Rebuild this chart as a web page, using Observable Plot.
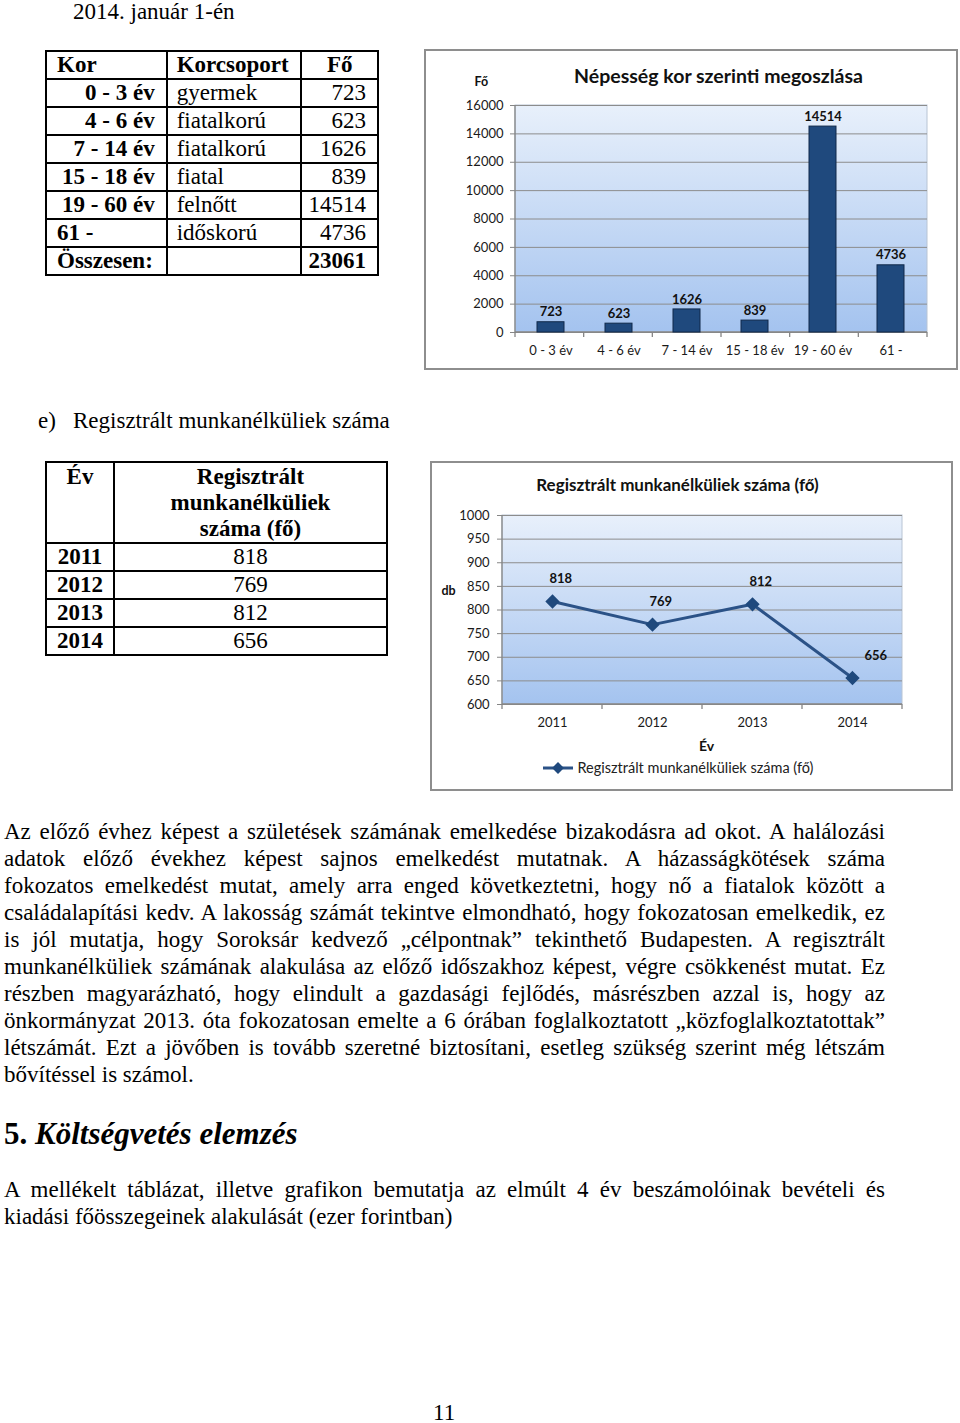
<!DOCTYPE html>
<html><head><meta charset="utf-8">
<script src="https://cdn.jsdelivr.net/npm/d3@7"></script>
<script src="https://cdn.jsdelivr.net/npm/@observablehq/plot@0.6"></script>
<style>
html,body{margin:0;padding:0;background:#fff;}
body{width:960px;height:1423px;position:relative;overflow:hidden;font-family:"Liberation Serif","Times New Roman",serif;color:#000;font-size:23px;}
.abs{position:absolute;line-height:27px;white-space:nowrap;}
table{border-collapse:collapse;font-size:23px;font-family:"Liberation Serif","Times New Roman",serif;}
td{border:2px solid #000;padding:0;line-height:26px;height:26px;vertical-align:middle;}
.line{position:absolute;left:4px;width:881px;text-align:justify;text-align-last:justify;line-height:27px;white-space:nowrap;}
.last{text-align-last:left;}
.box{position:absolute;border:2px solid #8e8e8e;box-sizing:border-box;background:#fff;}
.box svg{display:block;}
</style></head>
<body>
<div class="abs" style="left:73px;top:-2px;">2014. január 1-én</div>
<div id="t1" class="abs" style="left:45px;top:50px;"></div>
<div id="c1" class="box" style="left:424px;top:49px;width:534px;height:321px;"></div>

<div class="abs" style="left:38px;top:407px;">e)</div>
<div class="abs" style="left:73px;top:407px;">Regisztrált munkanélküliek száma</div>
<div id="t2" class="abs" style="left:45px;top:461px;"></div>
<div id="c2" class="box" style="left:430px;top:461px;width:523px;height:330px;"></div>

<div id="p1"></div>
<div class="abs" style="left:4px;top:1116px;font-size:31px;line-height:36px;font-weight:bold;">5. <i>Költségvetés elemzés</i></div>
<div id="p2"></div>
<div class="abs" style="left:433px;top:1399px;">11</div>

<script>
// ---------- data ----------
const ageGroups = ["0 - 3 év", "4 - 6 év", "7 - 14 év", "15 - 18 év", "19 - 60 év", "61 -"];
const ageGroupNames = ["gyermek", "fiatalkorú", "fiatalkorú", "fiatal", "felnőtt", "időskorú"];
const population = [723, 623, 1626, 839, 14514, 4736];
const populationTotal = 23061;
const popTicks = [0, 2000, 4000, 6000, 8000, 10000, 12000, 14000, 16000];

const years = ["2011", "2012", "2013", "2014"];
const unemployed = [818, 769, 812, 656];
const unempTicks = [600, 650, 700, 750, 800, 850, 900, 950, 1000];

const para1 = [
  "Az előző évhez képest a születések számának emelkedése bizakodásra ad okot. A halálozási",
  "adatok előző évekhez képest sajnos emelkedést mutatnak. A házasságkötések száma",
  "fokozatos emelkedést mutat, amely arra enged következtetni, hogy nő a fiatalok között a",
  "családalapítási kedv. A lakosság számát tekintve elmondható, hogy fokozatosan emelkedik, ez",
  "is jól mutatja, hogy Soroksár kedvező „célpontnak” tekinthető Budapesten. A regisztrált",
  "munkanélküliek számának alakulása az előző időszakhoz képest, végre csökkenést mutat. Ez",
  "részben magyarázható, hogy elindult a gazdasági fejlődés, másrészben azzal is, hogy az",
  "önkormányzat 2013. óta fokozatosan emelte a 6 órában foglalkoztatott „közfoglalkoztatottak”",
  "létszámát. Ezt a jövőben is tovább szeretné biztosítani, esetleg szükség szerint még létszám",
  "bővítéssel is számol."
];
const para2 = [
  "A mellékelt táblázat, illetve grafikon bemutatja az elmúlt 4 év beszámolóinak bevételi és",
  "kiadási főösszegeinek alakulását (ezer forintban)"
];

// ---------- paragraphs ----------
function paragraph(id, lines, top) {
  const host = document.getElementById(id);
  lines.forEach((t, i) => {
    const d = document.createElement("div");
    d.className = "line" + (i === lines.length - 1 ? " last" : "");
    d.style.top = (top + i * 27) + "px";
    d.textContent = t;
    host.appendChild(d);
  });
}
paragraph("p1", para1, 818);
paragraph("p2", para2, 1176);

// ---------- tables ----------
(function () {
  const t = d3.select("#t1").append("table").style("width", "334px");
  const cw = [120, 134, 80];
  const h = t.append("tr").style("font-weight", "bold");
  h.append("td").style("width", cw[0] + "px").style("padding-left", "10px").text("Kor");
  h.append("td").style("width", cw[1] + "px").style("padding-left", "9px").text("Korcsoport");
  h.append("td").style("width", cw[2] + "px").style("text-align", "center").text("Fő");
  ageGroups.forEach((g, i) => {
    const r = t.append("tr");
    const last = i === ageGroups.length - 1;
    r.append("td").style("font-weight", "bold")
      .style("text-align", last ? "left" : "right")
      .style(last ? "padding-left" : "padding-right", last ? "10px" : "11px").text(g);
    r.append("td").style("padding-left", "9px").text(ageGroupNames[i]);
    r.append("td").style("text-align", "right").style("padding-right", "11px").text(population[i]);
  });
  const f = t.append("tr").style("font-weight", "bold");
  f.append("td").style("padding-left", "10px").text("Összesen:");
  f.append("td");
  f.append("td").style("text-align", "right").style("padding-right", "11px").text(populationTotal);

  const t2 = d3.select("#t2").append("table").style("width", "343px");
  const h2 = t2.append("tr").style("font-weight", "bold");
  h2.append("td").style("width", "66px").style("text-align", "center").style("vertical-align", "top")
    .style("height", "78px").style("padding-top", "1px").text("Év");
  h2.append("td").style("text-align", "center").style("vertical-align", "top").style("padding-top", "1px")
    .html("Regisztrált<br>munkanélküliek<br>száma (fő)");
  years.forEach((y, i) => {
    const r = t2.append("tr");
    r.append("td").style("text-align", "center").style("font-weight", "bold").text(y);
    r.append("td").style("text-align", "center").text(unemployed[i]);
  });
})();

// ---------- chart helpers ----------
function gradientFrame(id, top, bottom) {
  return (index, scales, values, dims) => {
    const g = d3.create("svg:g");
    const lg = g.append("defs").append("linearGradient").attr("id", id)
      .attr("x1", 0).attr("y1", 0).attr("x2", 0).attr("y2", 1);
    lg.append("stop").attr("offset", "0%").attr("stop-color", top);
    lg.append("stop").attr("offset", "100%").attr("stop-color", bottom);
    g.append("rect").attr("x", dims.marginLeft).attr("y", dims.marginTop)
      .attr("width", dims.width - dims.marginLeft - dims.marginRight)
      .attr("height", dims.height - dims.marginTop - dims.marginBottom)
      .attr("fill", `url(#${id})`).attr("stroke", "#b8c4d4");
    return g.node();
  };
}
function axisFrame(n) {
  return (index, scales, values, dims) => {
    const g = d3.create("svg:g").attr("stroke", "#868686").attr("stroke-width", 1.3);
    const x0 = dims.marginLeft, x1 = dims.width - dims.marginRight;
    const y0 = dims.marginTop, y1 = dims.height - dims.marginBottom;
    g.append("line").attr("x1", x0).attr("x2", x0).attr("y1", y0).attr("y2", y1);
    g.append("line").attr("x1", x0).attr("x2", x1).attr("y1", y1).attr("y2", y1);
    for (let i = 0; i <= n; i++) {
      const x = x0 + (x1 - x0) * i / n;
      g.append("line").attr("x1", x).attr("x2", x).attr("y1", y1).attr("y2", y1 + 5);
    }
    return g.node();
  };
}

const font = "Lato, 'Open Sans', sans-serif";

// ---------- chart 1 ----------
const popData = ageGroups.map((g, i) => ({group: g, value: population[i]}));
const chart1 = Plot.plot({
  width: 530, height: 317,
  marginTop: 54, marginRight: 29, marginBottom: 36, marginLeft: 89,
  style: {fontFamily: font, fontSize: "13px", color: "#1a1a1a", background: "transparent", overflow: "visible"},
  x: {domain: ageGroups, paddingInner: 0.6, paddingOuter: 0.3, label: null},
  y: {domain: [0, 16000], label: null},
  marks: [
    gradientFrame("g1", "#e8f0fb", "#a4c3ef"),
    Plot.gridY(popTicks, {stroke: "#8c8c8c", strokeOpacity: 1}),
    Plot.axisY(popTicks, {tickSize: 5, tickPadding: 7, stroke: "#868686", label: null, tickFormat: d => String(d), fontSize: 13}),
    Plot.axisX({tickSize: 0, tickPadding: 13, label: null, fontSize: 13}),
    axisFrame(ageGroups.length),
    Plot.barY(popData, {x: "group", y: "value", fill: "#1f497d", stroke: "#10294a", strokeWidth: 1}),
    Plot.text(popData, {x: "group", y: "value", text: d => String(d.value), dy: -10, fontWeight: "bold", fontSize: 13, fill: "#111"}),
    Plot.text(["Népesség kor szerinti megoszlása"], {frameAnchor: "top", lineAnchor: "middle", dx: -3, dy: -29, fontWeight: "bold", fontSize: 19.5, fill: "#111"}),
    Plot.text(["Fő"], {frameAnchor: "top-left", lineAnchor: "middle", textAnchor: "start", dx: -41, dy: -24, fontWeight: "bold", fontSize: 12.5, fill: "#111"})
  ]
});
document.getElementById("c1").appendChild(chart1);

// ---------- chart 2 ----------
const unData = years.map((y, i) => ({year: y, value: unemployed[i]}));
const lineColor = "#2b5287";
function legendSwatch(dx1, dx2, dy) {
  return (index, scales, values, dims) => {
    const g = d3.create("svg:g");
    const y = dims.height - dims.marginBottom + dy;
    const xa = dims.marginLeft + dx1, xb = dims.marginLeft + dx2, xm = (xa + xb) / 2;
    g.append("line").attr("x1", xa).attr("x2", xb).attr("y1", y).attr("y2", y)
      .attr("stroke", lineColor).attr("stroke-width", 3);
    g.append("path").attr("d", d3.symbol(d3.symbolDiamond2, 90)()).attr("transform", `translate(${xm},${y})`)
      .attr("fill", "#1f497d");
    return g.node();
  };
}
const chart2 = Plot.plot({
  width: 519, height: 326,
  marginTop: 52, marginRight: 49, marginBottom: 85, marginLeft: 70,
  style: {fontFamily: font, fontSize: "13px", color: "#1a1a1a", background: "transparent", overflow: "visible"},
  x: {type: "point", domain: years, padding: 0.5, label: null},
  y: {domain: [600, 1000], label: null},
  marks: [
    gradientFrame("g2", "#e8f0fb", "#a4c3ef"),
    Plot.gridY(unempTicks, {stroke: "#8c8c8c", strokeOpacity: 1}),
    Plot.axisY(unempTicks, {tickSize: 5, tickPadding: 8, stroke: "#868686", label: null, tickFormat: d => String(d), fontSize: 13}),
    Plot.axisX({tickSize: 0, tickPadding: 13, label: null, fontSize: 13}),
    axisFrame(years.length),
    Plot.line(unData, {x: "year", y: "value", stroke: lineColor, strokeWidth: 3}),
    Plot.dot(unData, {x: "year", y: "value", symbol: "diamond2", r: 5.5, fill: "#1f497d", stroke: "#1f497d"}),
    Plot.text(unData.slice(0, 3), {x: "year", y: "value", text: d => String(d.value), textAnchor: "start", dx: -3, dy: -23, fontWeight: "bold", fontSize: 13, fill: "#111"}),
    Plot.text(unData.slice(3), {x: "year", y: "value", text: d => String(d.value), textAnchor: "start", dx: 12, dy: -22, fontWeight: "bold", fontSize: 13, fill: "#111"}),
    Plot.text(["Regisztrált munkanélküliek száma (fő)"], {frameAnchor: "top", lineAnchor: "middle", dx: -25, dy: -30, fontWeight: "bold", fontSize: 17, fill: "#111"}),
    Plot.text(["db"], {frameAnchor: "left", lineAnchor: "middle", textAnchor: "start", dx: -61, dy: -19, fontWeight: "bold", fontSize: 12.5, fill: "#111"}),
    Plot.text(["Év"], {frameAnchor: "bottom", lineAnchor: "middle", dx: 4, dy: 42, fontWeight: "bold", fontSize: 14, fill: "#111"}),
    legendSwatch(41, 71, 64),
    Plot.text(["Regisztrált munkanélküliek száma (fő)"], {frameAnchor: "bottom-left", lineAnchor: "middle", textAnchor: "start", dx: 75, dy: 64, fontSize: 14.5, fill: "#222"})
  ]
});
document.getElementById("c2").appendChild(chart2);
</script>
</body></html>
